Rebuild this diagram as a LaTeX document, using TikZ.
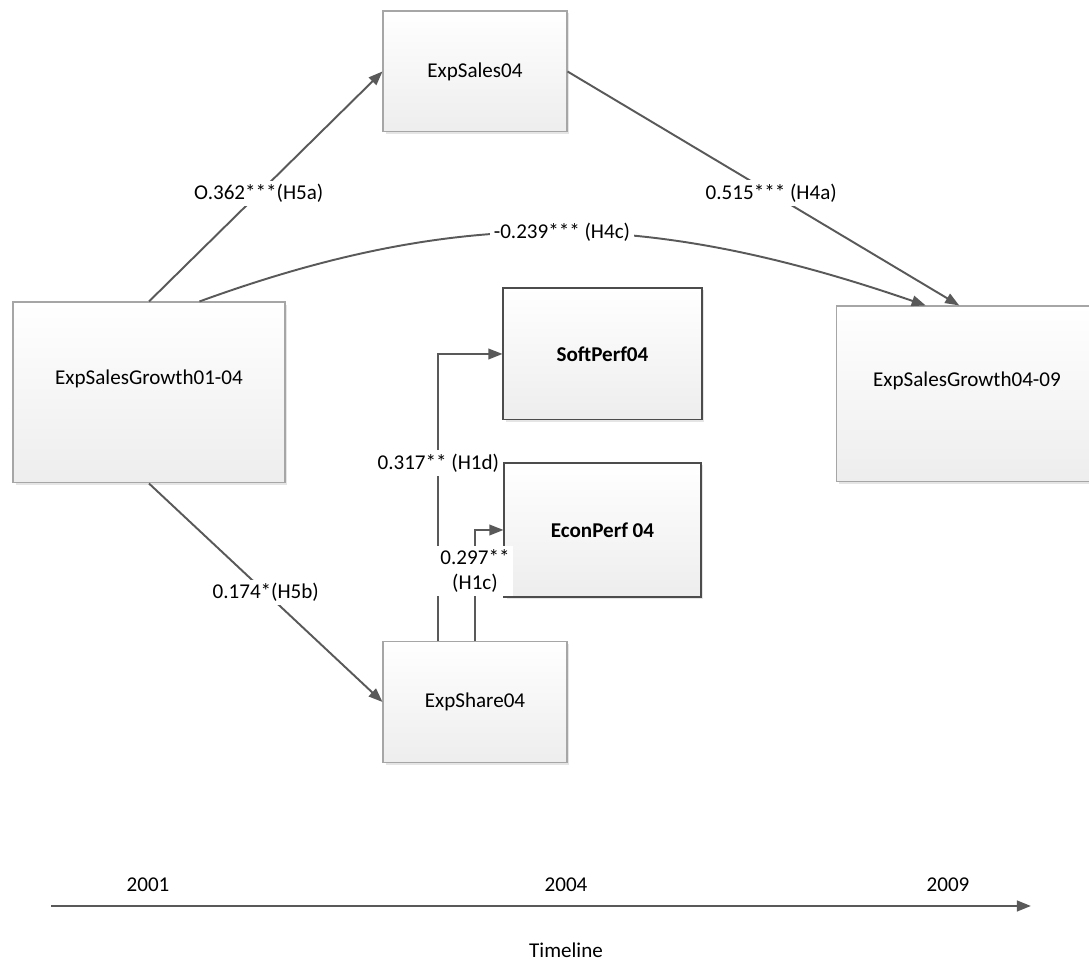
\documentclass[tikz,border=0pt]{standalone}
\usepackage{fontspec}
\setmainfont{Carlito}
\usetikzlibrary{arrows.meta,shadows}

\begin{document}
\begin{tikzpicture}[x=0.02cm,y=0.02cm,
    box/.style={draw=black!35,line width=0.6pt,top color=white,bottom color=black!7,
      drop shadow={shadow xshift=0.05cm,shadow yshift=-0.05cm,fill=black!10,opacity=1},
      font=\fontsize{12}{14.4}\selectfont},
    bigbox/.style={box,text depth=0.6cm},
    keybox/.style={box,draw=black!70,font=\fontsize{12}{14.4}\selectfont\bfseries},
    link/.style={draw=black!65,line width=1.1pt,-{Triangle[length=8pt,width=6pt]}},
    coef/.style={fill=white,inner sep=2pt,text=black,font=\fontsize{12}{14.4}\selectfont},
    yr/.style={font=\fontsize{12}{14.4}\selectfont}]
    \useasboundingbox (0,0) rectangle (1089,962);
    \node[bigbox,minimum width=5.44cm,minimum height=3.62cm] (g1) at (149,569.5) {ExpSalesGrowth01-04};
    \node[box,minimum width=3.68cm,minimum height=2.42cm] (es) at (475,890.5) {ExpSales04};
    \node[box,minimum width=3.68cm,minimum height=2.42cm] (sh) at (475,260) {ExpShare04};
    \node[keybox,minimum width=3.98cm,minimum height=2.64cm] (sp) at (602.5,608) {SoftPerf04};
    \node[keybox,minimum width=3.94cm,minimum height=2.68cm] (ep) at (602.5,432) {EconPerf 04};
    \node[bigbox,minimum width=5.24cm,minimum height=3.52cm] (g2) at (967,568) {ExpSalesGrowth04-09};
    \draw[link] (g1.north) -- node[coef,pos=0.47] {O.362***(H5a)} (es.west);
    \draw[link] (g1.south) -- node[coef,pos=0.5] {0.174*(H5b)} (sh.west);
    \draw[link] (es.east) -- node[coef,pos=0.52] {0.515*** (H4a)} (g2.95);
    \draw[link] (g1.61) to[out=20,in=161] node[coef] {-0.239*** (H4c)} (g2.115);
    \draw[link] (sh.121) |- node[coef,pos=0.31] {0.317** (H1d)} (sp.west);
    \draw[link] (sh.north) |- node[coef,pos=0.315,align=center] {0.297**\\(H1c)} (ep.west);
    \coordinate (t0) at (51,56);
    \coordinate (t1) at (1031,56);
    \draw[link,line width=1.4pt] (t0) -- (t1);
    \node[yr] (y1) at (148,77) {2001};
    \node[yr] (y2) at (566,77) {2004};
    \node[yr] (y3) at (948,77) {2009};
    \node[yr] (tl) at (566,12) {Timeline};
  \end{tikzpicture}
\end{document}
